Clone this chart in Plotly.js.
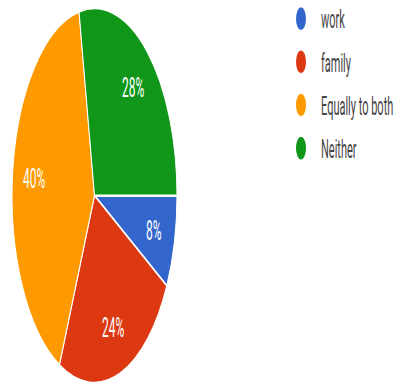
<!DOCTYPE html>
<html><head><meta charset="utf-8">
<script src="https://cdn.plot.ly/plotly-3.0.1.min.js"></script>
<style>
html,body{margin:0;padding:0;background:#fff;overflow:hidden;}
#wrap{width:396px;height:387px;overflow:hidden;position:relative;}
#plot{width:396px;height:184px;transform:translateY(-23.5px) scaleY(2.27);transform-origin:0 0;}
</style></head>
<body><div id="wrap"><div id="plot"></div></div>
<script>
const categories = ["work", "family", "Equally to both", "Neither"];
const values = [8, 24, 40, 28];
const colors = ["#3366CC", "#DC3912", "#FF9900", "#109618"];

const domX = [12/396, 177/396];
const total = values.reduce((a, b) => a + b, 0);

const traces = [{
  type: "pie",
  labels: categories,
  values: values,
  sort: false,
  direction: "clockwise",
  rotation: 90,
  marker: {colors: colors, line: {color: "#ffffff", width: 1}},
  textinfo: "none",
  showlegend: false,
  hoverinfo: "label+percent",
  domain: {x: domX, y: [0, 1]}
}];
categories.forEach((c, i) => {
  traces.push({
    type: "scatter", mode: "markers", x: [null], y: [null], name: c,
    marker: {color: colors[i], size: 10, symbol: "circle"},
    xaxis: "x", yaxis: "y", showlegend: true
  });
});

// percent labels placed along each slice's mid-angle
const cx = (domX[0] + domX[1]) / 2, hx = (domX[1] - domX[0]) / 2;
const annotations = [];
let cum = 0;
values.forEach((v, i) => {
  const mid = (cum + v / 2) / total;
  cum += v;
  const th = -mid * 2 * Math.PI; // start at 3 o'clock, clockwise
  annotations.push({
    xref: "paper", yref: "paper",
    x: cx + 0.74 * hx * Math.cos(th),
    y: 0.5 + 0.74 * 0.5 * Math.sin(th),
    text: Math.round(v / total * 100) + "%",
    showarrow: false,
    font: {color: "#ffffff", size: 12, family: "Roboto, Arial, sans-serif"},
    xanchor: "center", yanchor: "middle"
  });
});

Plotly.newPlot("plot", traces, {
  width: 396, height: 184,
  margin: {l: 0, r: 0, t: 14, b: 5, autoexpand: false},
  paper_bgcolor: "#ffffff", plot_bgcolor: "#ffffff",
  xaxis: {visible: false, domain: [0.99, 1]},
  yaxis: {visible: false},
  showlegend: true,
  annotations: annotations,
  legend: {x: 0.7096, xanchor: "left", y: 1.06, yanchor: "top",
    font: {size: 11, color: "#444444", family: "Roboto, Arial, sans-serif"},
    itemwidth: 30, tracegroupgap: 0, bgcolor: "rgba(0,0,0,0)"}
}, {displayModeBar: false, staticPlot: true});
</script></body></html>
